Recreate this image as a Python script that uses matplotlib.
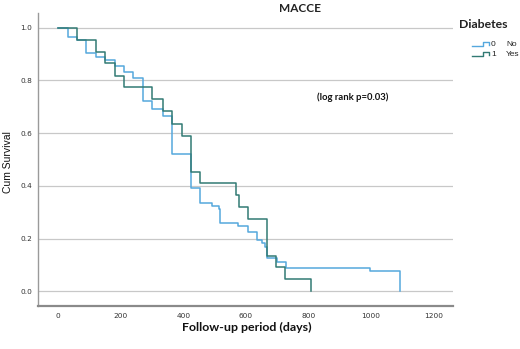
import matplotlib
matplotlib.use("Agg")
import matplotlib.pyplot as plt
from matplotlib.lines import Line2D

# ---- data ----
groups = ["0", "1"]
group_labels = ["No", "Yes"]

no_times = [0, 30, 61, 89, 121, 150, 181, 210, 240, 270, 300, 335, 364, 425, 453,
            492, 513, 518, 576, 608, 636, 651, 661, 669, 699, 729, 997, 1093]
no_surv = [1.0, 0.966, 0.955, 0.903, 0.890, 0.878, 0.856, 0.833, 0.811, 0.723, 0.691,
           0.666, 0.522, 0.391, 0.336, 0.324, 0.311, 0.258, 0.249, 0.226, 0.193,
           0.184, 0.169, 0.125, 0.112, 0.089, 0.078, 0.0]

yes_times = [0, 61, 121, 150, 181, 210, 300, 335, 364, 395, 425, 453, 567, 577,
             608, 669, 697, 725, 809]
yes_surv = [1.0, 0.955, 0.909, 0.865, 0.818, 0.774, 0.729, 0.683, 0.636, 0.590,
            0.454, 0.410, 0.365, 0.320, 0.273, 0.134, 0.091, 0.046, 0.0]

x_ticks = [0, 200, 400, 600, 800, 1000, 1200]
y_ticks = [0.0, 0.2, 0.4, 0.6, 0.8, 1.0]

title = "MACCE"
x_label = "Follow-up period (days)"
y_label = "Cum Survival"
annotation = "(log rank p=0.03)"
legend_title = "Diabetes"

colors = ["#55a8dd", "#327a74"]

W, H = 520, 349
fig = plt.figure(figsize=(W / 100, H / 100), dpi=100)
ax = fig.add_axes([37.7 / W, 1 - 305.7 / H, (453 - 37.7) / W, (305.7 - 13.3) / H])

ax.step(no_times, no_surv, where="post", color=colors[0], lw=1.1, zorder=3)
ax.step(yes_times, yes_surv, where="post", color=colors[1], lw=1.1, zorder=4)

ax.set_xlim(-66, 1263)
ax.set_ylim(-0.055, 1.055)
ax.set_xticks(x_ticks)
ax.set_yticks(y_ticks)
ax.set_xticklabels([str(t) for t in x_ticks])
ax.set_yticklabels([f"{t:.1f}" for t in y_ticks])
ax.tick_params(length=0, labelsize=5.3, labelcolor="#333333")
ax.tick_params(axis="x", pad=5)
ax.tick_params(axis="y", pad=4)
ax.yaxis.grid(True, color="#c8c8c8", lw=0.9)
ax.set_axisbelow(True)
for s in ["top", "right"]:
    ax.spines[s].set_visible(False)
ax.spines["left"].set_color("#9a9a9a")
ax.spines["left"].set_linewidth(1.0)
ax.spines["bottom"].set_color("#8a8a8a")
ax.spines["bottom"].set_linewidth(1.6)

ax.text(943, 0.737, annotation, ha="center", va="center", fontsize=6.8,
        fontweight="bold", family="Lato", color="#111111")

fig.text(300 / W, 1 - 9 / H, title, ha="center", va="center", fontsize=8.5,
         fontweight="bold", family="Lato", color="#222222")
fig.text(247 / W, 1 - 327 / H, x_label, ha="center", va="center", fontsize=8.9,
         fontweight="bold", family="Lato", color="#111111")
fig.text(8 / W, 1 - 162 / H, y_label, ha="center", va="center", rotation=90,
         fontsize=7.5, family="Liberation Sans", color="#111111")

# legend
fig.text(459 / W, 1 - 24 / H, legend_title, ha="left", va="center", fontsize=8.8,
         fontweight="bold", family="Lato", color="#222222")
for i, (g, lab, c) in enumerate(zip(groups, group_labels, colors)):
    yc = 44 + i * 10
    xs = [472, 483, 483, 489, 489]
    ys = [yc + 2, yc + 2, yc - 2, yc - 2, yc + 1]
    fig.add_artist(Line2D([x / W for x in xs], [1 - y / H for y in ys],
                          color=c, lw=1.0, transform=fig.transFigure))
    fig.text(491 / W, 1 - yc / H, g, ha="left", va="center", fontsize=6,
             family="Liberation Sans", color="#222222")
    fig.text(506 / W, 1 - yc / H, lab, ha="left", va="center", fontsize=6,
             family="Liberation Sans", color="#222222")

fig.savefig("out.png", dpi=100)
